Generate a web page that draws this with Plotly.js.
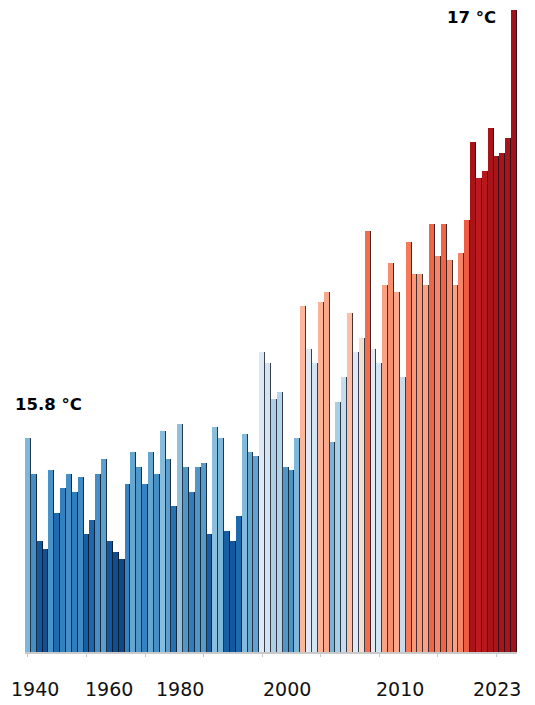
<!DOCTYPE html>
<html>
<head>
<meta charset="utf-8">
<script src="https://cdn.plot.ly/plotly-3.0.1.min.js"></script>
<style>html,body{margin:0;padding:0;background:#fff;}#chart{width:535px;height:705px;}</style>
</head>
<body>
<div id="chart"></div>
<script>
// Years (one bar each)
const years = [1940,1941,1942,1943,1944,1945,1946,1947,1948,1949,
  1950,1951,1952,1953,1954,1955,1956,1957,1958,1959,
  1960,1961,1962,1963,1964,1965,1966,1967,1968,1969,
  1970,1971,1972,1973,1974,1975,1976,1977,1978,1979,
  1980,1981,1982,1983,1984,1985,1986,1987,1988,1989,
  1990,1991,1992,1993,1994,1995,1996,1997,1998,1999,
  2000,2001,2002,2003,2004,2005,2006,2007,2008,2009,
  2010,2011,2012,2013,2014,2015,2016,2017,2018,2019,
  2020,2021,2022,2023];

// Global temperature (°C)
const temps = [15.80,15.70,15.51,15.49,15.71,15.59,15.66,15.70,15.65,15.69,
  15.53,15.57,15.70,15.74,15.51,15.48,15.46,15.67,15.76,15.72,
  15.67,15.76,15.70,15.82,15.74,15.61,15.84,15.72,15.65,15.72,
  15.73,15.53,15.83,15.80,15.54,15.51,15.58,15.81,15.76,15.75,
  16.04,16.01,15.91,15.93,15.72,15.71,15.80,16.17,16.05,16.01,
  16.18,16.21,15.79,15.90,15.97,16.15,16.04,16.08,16.38,16.05,
  16.01,16.23,16.29,16.21,15.97,16.35,16.26,16.26,16.23,16.40,
  16.31,16.40,16.30,16.23,16.32,16.41,16.63,16.53,16.55,16.67,
  16.59,16.60,16.64,17.00];

// Axis labels shown under the chart
const axisLabels = ['1940','1960','1980','2000','2010','2023'];
const firstLabel = '15.8 °C';
const lastLabel = '17 °C';

const stripeScale = [
  [0.000,'#0d4582'],[0.045,'#145aa0'],[0.097,'#216eb2'],[0.142,'#3683c1'],
  [0.181,'#559bcb'],[0.226,'#7db8da'],[0.290,'#a9cde5'],[0.355,'#d0e2f2'],
  [0.394,'#e4ecf5'],[0.413,'#fcd5c3'],[0.452,'#fcbea5'],[0.490,'#fba78b'],
  [0.535,'#f89373'],[0.574,'#f57e5e'],[0.613,'#f06548'],[0.645,'#de3129'],
  [0.690,'#c01b21'],[0.742,'#a81419'],[1.000,'#a3121a']
];

const bars = {
  type: 'bar', x: years, y: temps,
  width: 1, offset: -0.5,
  marker: {color: temps, colorscale: stripeScale, cmin: 15.45, cmax: 17.0, line: {width: 0}},
  hoverinfo: 'x+y', showlegend: false
};
const edges = {
  type: 'bar', x: years, y: temps,
  width: 0.17, offset: 0.33,
  marker: {color: 'rgba(15,15,25,0.78)', line: {width: 0}},
  hoverinfo: 'skip', showlegend: false
};

const labelPos = [0.0203, 0.1707, 0.3150, 0.5325, 0.7622, 0.9593];
const annotations = axisLabels.map((t, i) => ({
  text: t, xref: 'paper', yref: 'paper', x: labelPos[i], y: -0.0572,
  xanchor: 'center', yanchor: 'middle', showarrow: false,
  font: {family: 'DejaVu Sans', size: 19, color: '#111'}
}));
annotations.push({
  text: '<b>' + firstLabel + '</b>', x: years[0], y: temps[0], xref: 'x', yref: 'y',
  xanchor: 'left', yanchor: 'bottom', xshift: -15, yshift: 22, showarrow: false,
  font: {family: 'DejaVu Sans', size: 16.5, color: '#000'}
});
annotations.push({
  text: '<b>' + lastLabel + '</b>', x: years[years.length-1], y: temps[temps.length-1], xref: 'x', yref: 'y',
  xanchor: 'right', yanchor: 'top', xshift: -16, yshift: 4, showarrow: false,
  font: {family: 'DejaVu Sans', size: 16.5, color: '#000'}
});

const layout = {
  width: 535, height: 705,
  margin: {l: 25, r: 18, t: 5, b: 53},
  paper_bgcolor: '#fff', plot_bgcolor: '#fff',
  barmode: 'overlay', bargap: 0,
  xaxis: {
    range: [1939.5, 2023.5], showgrid: false, zeroline: false, fixedrange: true,
    showline: true, linecolor: '#c9c9c9', linewidth: 2,
    ticks: 'outside', ticklen: 3, tickcolor: '#c9c9c9', tickwidth: 1,
    tickvals: [1940,1950,1960,1970,1980,1990,2000,2010,2020],
    showticklabels: false
  },
  yaxis: {range: [15.2, 17.014], visible: false, fixedrange: true},
  annotations: annotations
};

Plotly.newPlot('chart', [bars, edges], layout, {displayModeBar: false});
</script>
</body>
</html>
